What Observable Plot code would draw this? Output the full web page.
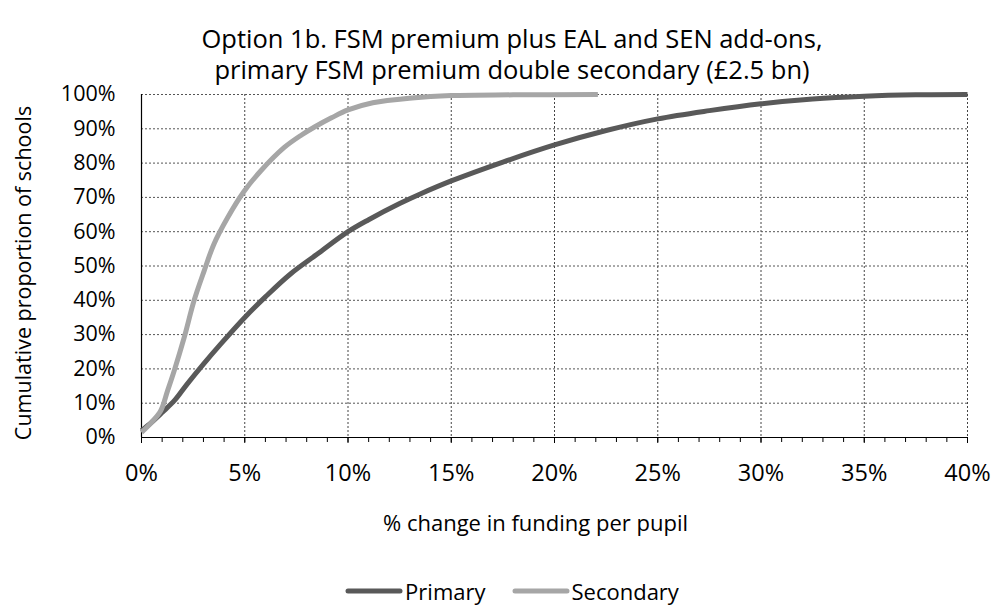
<!DOCTYPE html>
<html>
<head>
<meta charset="utf-8">
<script src="https://cdn.jsdelivr.net/npm/d3@7"></script>
<script src="https://cdn.jsdelivr.net/npm/@observablehq/plot@0.6"></script>
<style>
  html, body { margin: 0; padding: 0; background: #fff; }
  body { width: 994px; height: 605px; overflow: hidden; font-family: "Open Sans", sans-serif; color: #000; position: relative; }
  #title { height: 64px; padding-top: 23px; text-align: center; font-size: 25.5px; line-height: 31px; box-sizing: content-box; }
  #title div { position: relative; left: 15px; white-space: nowrap; }
  #chart svg { display: block; }
  #legend { position: absolute; top: 579px; left: 15px; width: 994px; display: flex; justify-content: center; align-items: center; font-size: 22px; line-height: 24px; height: 24px; }
  #legend .item { display: flex; align-items: center; margin: 0 13px; }
  #legend svg { margin-right: 2px; }
  svg text { font-family: "Open Sans", sans-serif; }
</style>
</head>
<body>
<div id="title"><div>Option 1b. FSM premium plus EAL and SEN add-ons,</div><div>primary FSM premium double secondary (£2.5 bn)</div></div>
<div id="chart"></div>
<div id="legend"></div>
<script>
// Data (percent values)
const seriesNames = ["Primary", "Secondary"];
const seriesColors = ["#595959", "#a6a6a6"];

const primaryX = [0, 0.5, 1, 1.6, 2.2, 3, 3.8, 5, 6, 7.2, 8.5, 10, 11, 12.5, 13.5, 15, 17.5, 20, 22.5, 25, 27.5, 30, 32.5, 35, 37.5, 40];
const primaryY = [2, 4.5, 7.3, 10.8, 15.5, 21.4, 27, 35, 41, 47.6, 53.4, 60, 63.5, 68.2, 71, 74.8, 80.3, 85.3, 89.5, 92.9, 95.3, 97.3, 98.7, 99.5, 99.9, 100];

const secondaryX = [0, 0.5, 0.93, 1.26, 1.58, 2.06, 2.55, 3.03, 3.5, 4.16, 4.97, 5.77, 6.9, 7.75, 8.4, 9.2, 10, 11.2, 13.1, 15, 18, 22.1];
const secondaryY = [1.5, 4.5, 7.8, 13.6, 19.4, 29, 40, 48.5, 56.3, 64, 71.8, 77.7, 84.5, 88.2, 90.6, 93.2, 95.5, 97.6, 99, 99.7, 99.9, 100];

const xMajorTicks = [0, 5, 10, 15, 20, 25, 30, 35, 40];
const xMinorTicks = d3.range(0, 41, 1);
const yTicks = [0, 10, 20, 30, 40, 50, 60, 70, 80, 90, 100];

const xLabel = "% change in funding per pupil";
const yLabel = "Cumulative proportion of schools";

const rows = [
  ...primaryX.map((x, i) => ({series: seriesNames[0], x: x / 100, y: primaryY[i] / 100})),
  ...secondaryX.map((x, i) => ({series: seriesNames[1], x: x / 100, y: secondaryY[i] / 100}))
];

const pct = d3.format(".0%");

const chart = Plot.plot({
  width: 994,
  height: 468,
  marginLeft: 141,
  marginRight: 27,
  marginTop: 7,
  marginBottom: 118,
  style: {fontFamily: "Open Sans, sans-serif", color: "#000", background: "#fff", overflow: "visible"},
  x: {domain: [0, 0.40]},
  y: {domain: [0, 1]},
  color: {domain: seriesNames, range: seriesColors},
  marks: [
    Plot.gridX(xMajorTicks.slice(1).map(d => d / 100), {stroke: "#444", strokeOpacity: 1, strokeWidth: 1, strokeDasharray: "2,2"}),
    Plot.gridY(yTicks.slice(1).map(d => d / 100), {stroke: "#555", strokeOpacity: 1, strokeWidth: 1, strokeDasharray: "2,2"}),
    Plot.axisX(xMinorTicks.map(d => d / 100), {tickSize: 5, text: null, stroke: "#000", label: null}),
    Plot.axisX(xMajorTicks.map(d => d / 100), {tickSize: 6, text: null, stroke: "#000", label: null}),
    Plot.axisX(xMajorTicks.map(d => d / 100), {tickSize: 0, tickPadding: 27, tickFormat: pct, fontSize: 23.5, label: null, fill: "#000"}),
    Plot.axisY(yTicks.map(d => d / 100), {tickSize: 0, tickPadding: 26, tickFormat: pct, fontSize: 21.5, label: null, fill: "#000"}),
    Plot.ruleX([0], {stroke: "#000", strokeWidth: 1.2}),
    Plot.ruleY([0], {stroke: "#000", strokeWidth: 1.2}),
    Plot.line(rows, {x: "x", y: "y", z: "series", stroke: "series", strokeWidth: 5, curve: "catmull-rom", strokeLinecap: "butt"}),
    Plot.text([xLabel], {frameAnchor: "bottom", text: d => d, dy: 93, dx: -19, fontSize: 22, fill: "#000"}),
    Plot.text([yLabel], {frameAnchor: "left", text: d => d, rotate: -90, textAnchor: "middle", dx: -117, dy: 7, fontSize: 21.5, fill: "#000"})
  ]
});
document.getElementById("chart").appendChild(chart);

// Legend
const legend = document.getElementById("legend");
seriesNames.forEach((name, i) => {
  const item = document.createElement("div");
  item.className = "item";
  item.innerHTML = `<svg width="58" height="10"><line x1="3" y1="5" x2="55" y2="5" stroke="${seriesColors[i]}" stroke-width="5" stroke-linecap="round"/></svg><span>${name}</span>`;
  legend.appendChild(item);
});
</script>
</body>
</html>
